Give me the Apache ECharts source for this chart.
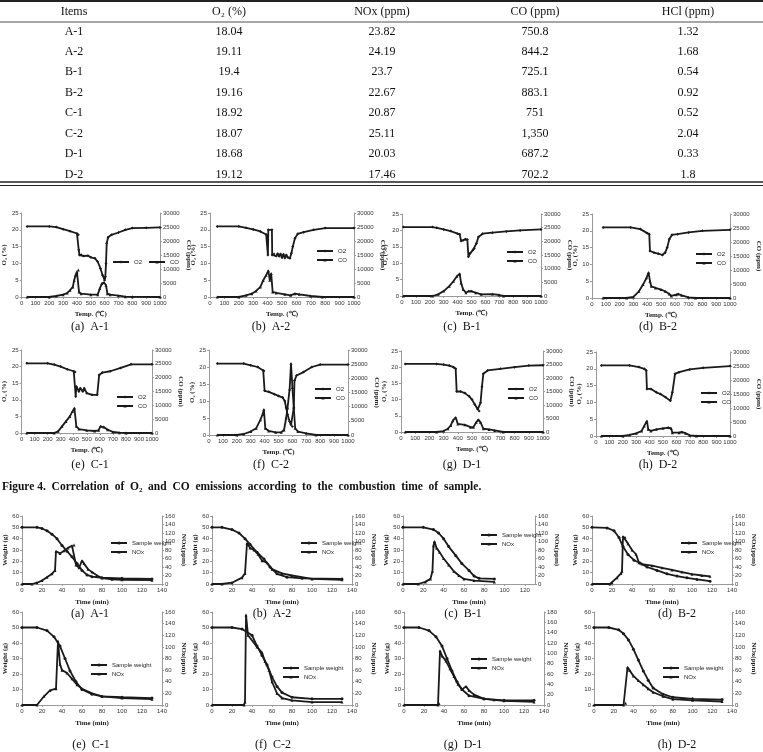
<!DOCTYPE html>
<html lang="en">
<head>
<meta charset="UTF-8">
<title>Figure 4</title>
<style>
  html, body { margin: 0; padding: 0; background: #fff; }
  #chart { width: 763px; height: 752px; }
</style>
</head>
<body>
<div id="chart"></div>
<script src="https://cdn.jsdelivr.net/npm/echarts@6/dist/echarts.min.js"></script>
<script>
// ---- table ----
var tableHead = ['Items', 'O₂ (%)', 'NOx (ppm)', 'CO (ppm)', 'HCl (ppm)'];
var items   = ['A-1', 'A-2', 'B-1', 'B-2', 'C-1', 'C-2', 'D-1', 'D-2'];
var o2Mean  = ['18.04', '19.11', '19.4', '19.16', '18.92', '18.07', '18.68', '19.12'];
var noxMean = ['23.82', '24.19', '23.7', '22.67', '20.87', '25.11', '20.03', '17.46'];
var coMean  = ['750.8', '844.2', '725.1', '883.1', '751', '1,350', '687.2', '702.2'];
var hclMean = ['1.32', '1.68', '0.54', '0.92', '0.52', '2.04', '0.33', '1.8'];

// ---- O2 (%) and CO (ppm) against temperature (C) ----
var o2A1 = [[40,21],[200,21],[250,20.8],[300,20.2],[350,19.6],[400,18.9],[410,18.5],[413,14],[418,12.5],[430,12.6],[450,12.2],[480,12.3],[500,11.8],[530,11.5],[550,10.5],[570,8.5],[585,6.5],[600,5],[605,6],[610,10],[615,16],[625,17.8],[650,18.5],[700,19.2],[750,20],[800,20.5],[900,20.6],[1000,20.7]];
var coA1 = [[40,0],[200,0],[250,360],[300,840],[330,1440],[350,2400],[370,3600],[380,6000],[390,7800],[400,9000],[410,9600],[415,1800],[430,1200],[500,840],[550,840],[565,3000],[580,4800],[595,5200],[610,4200],[620,1200],[640,840],[700,480],[750,120],[800,60],[1000,0]];
var o2A2 = [[50,21],[200,21],[250,20.6],[300,20.1],[350,19.5],[390,18.6],[400,18.2],[402,12.5],[405,20],[430,20],[432,12.5],[445,12.8],[460,12.2],[470,12.9],[480,12.1],[490,12.8],[500,11.7],[510,12.7],[520,11.6],[530,12.5],[540,11.8],[555,11.5],[565,13],[575,15],[590,17.5],[610,18.8],[650,19.3],[720,20],[800,20.5],[1000,20.5]];
var coA2 = [[50,0],[200,0],[250,600],[290,1200],[320,2160],[350,3600],[370,6000],[390,7800],[405,9400],[415,6000],[425,8400],[435,1800],[460,1440],[520,960],[560,600],[590,1200],[620,960],[700,360],[780,0],[1000,0]];
var o2B1 = [[10,21],[220,21],[250,20.8],[300,20.3],[350,19.8],[400,19],[415,18.8],[425,16.8],[440,17],[455,17.3],[470,17.2],[478,12],[490,13],[510,14],[520,14.5],[535,16],[550,18],[580,19],[650,19.3],[750,19.7],[850,20],[1000,20.3]];
var coB1 = [[10,0],[220,0],[260,600],[300,1800],[340,3600],[370,5400],[395,7200],[415,8160],[425,4800],[440,2400],[460,1200],[480,1800],[500,1800],[530,1200],[570,600],[650,720],[700,360],[730,0],[1000,0]];
var o2B2 = [[80,21],[280,21],[350,20.5],[400,19.3],[415,19],[420,14],[450,13.5],[480,13.2],[510,12.8],[530,13.5],[545,15],[560,17.5],[580,18.8],[620,19],[700,19.5],[800,20],[1000,20.3]];
var coB2 = [[80,0],[250,0],[300,360],[340,2400],[370,4800],[395,7200],[410,9100],[420,6000],[430,4200],[460,3600],[500,3000],[530,2400],[560,1440],[575,720],[610,1200],[625,1440],[650,960],[700,240],[750,0],[1000,0]];
var o2C1 = [[40,21],[200,21],[250,20.6],[300,20],[350,19.2],[400,18.6],[410,18.4],[415,11],[420,14],[440,12.5],[450,13.5],[470,12.5],[480,13.5],[500,12],[540,11.5],[580,11.5],[595,17.5],[620,18.2],[680,18.6],[760,19.6],[840,20.7],[1000,20.7]];
var coC1 = [[40,0],[250,0],[280,600],[310,2400],[340,4200],[370,6000],[390,7800],[405,9000],[420,2400],[440,1440],[500,960],[560,720],[590,960],[605,2400],[630,2160],[660,1200],[700,360],[750,120],[800,0],[1000,0]];
var o2C2 = [[60,21],[250,21],[300,20.5],[350,20],[390,19],[395,18.8],[400,13],[430,12.7],[470,12],[500,11.5],[530,11],[545,10],[555,8],[565,6],[580,4],[590,3],[600,2.5],[610,8],[615,16],[630,17.5],[680,18.5],[740,20],[800,20.7],[1000,20.7]];
var coC2 = [[60,0],[200,0],[250,360],[300,1200],[340,2400],[370,5400],[385,7200],[395,9000],[405,2400],[430,1440],[480,960],[520,960],[540,1800],[555,6000],[565,9600],[580,16200],[590,25200],[600,16800],[610,9600],[620,2400],[640,1200],[700,600],[770,0],[1000,0]];
var o2D1 = [[30,21],[250,21],[300,20.8],[340,20.5],[370,20],[385,19.5],[392,12.5],[420,12.5],[450,12],[480,11],[500,10],[520,8.5],[540,7],[550,6.5],[560,9],[570,14],[580,18],[610,19],[700,19.5],[800,20],[900,20.5],[1000,20.6]];
var coD1 = [[30,0],[250,0],[300,360],[330,1200],[350,2400],[365,4200],[385,5400],[400,3000],[450,2640],[490,1800],[510,1800],[530,3600],[545,4560],[560,3600],[580,1200],[620,960],[660,600],[720,0],[1000,0]];
var o2D2 = [[40,21],[250,21],[320,20.5],[360,20],[375,19.5],[380,14],[410,14],[450,13],[480,12.5],[520,11.5],[555,10.5],[570,13],[590,18.5],[620,19],[700,19.8],[800,20.3],[1000,20.8]];
var coD2 = [[40,0],[200,0],[250,360],[300,960],[340,1800],[360,3600],[380,5400],[390,2400],[410,1800],[450,2400],[500,2760],[540,3000],[560,2760],[570,1200],[620,1200],[640,1440],[670,960],[700,240],[750,0],[1000,0]];

// ---- sample weight (g) and NOx (ppm) against time (min) ----
var wtA1  = [[0,50],[15,50],[20,49],[25,47],[30,44],[35,40],[40,34],[45,29],[50,24],[55,18],[60,12],[65,8],[70,6.5],[80,5.5],[100,5],[130,4.5]];
var noxA1 = [[0,0],[10,0],[15,3],[20,8],[25,16],[30,24],[33,32],[34,77],[38,72],[42,78],[46,85],[50,90],[52,92],[54,45],[57,38],[60,55],[62,48],[66,35],[70,28],[75,20],[80,14],[90,11],[100,10],[130,9]];
var wtA2  = [[0,50],[10,50],[20,48],[27,45],[33,40],[38,35],[45,28],[52,22],[58,15],[65,9],[75,6],[90,5],[130,4.5]];
var noxA2 = [[0,0],[10,0],[20,3],[30,15],[33,25],[35,96],[38,85],[42,80],[46,70],[50,55],[55,50],[60,35],[70,25],[80,20],[100,12],[130,10]];
var wtB1  = [[0,50],[20,50],[30,48],[35,45],[40,40],[45,33],[52,25],[58,18],[65,12],[70,7],[75,5],[90,4.5]];
var noxB1 = [[0,0],[15,0],[22,5],[27,12],[29,30],[30,90],[31,100],[33,85],[36,75],[40,60],[45,45],[50,30],[55,20],[60,12],[70,8],[90,5]];
var wtB2  = [[0,50],[15,49.5],[22,47],[27,41],[31,33],[36,26],[42,21],[48,18.5],[55,15],[65,12],[75,9],[85,7],[95,5.5],[105,4],[118,2.5]];
var noxB2 = [[0,0],[18,0],[20,3],[25,15],[29,25],[30,30],[31,112],[33,110],[36,95],[40,80],[44,70],[47,50],[50,47],[60,43],[70,38],[80,33],[90,28],[100,23],[110,20],[118,18]];
var wtC1  = [[0,50],[15,50],[25,48],[32,44],[38,38],[43,30],[48,22],[54,15],[60,10],[70,7],[80,5.5],[100,5],[130,4.5]];
var noxC1 = [[0,0],[15,0],[22,15],[28,25],[34,28],[36,110],[38,70],[40,60],[45,55],[50,45],[55,35],[60,28],[70,20],[80,15],[100,12],[130,10]];
var wtC2  = [[0,50],[20,50],[30,49],[40,45],[45,38],[50,32],[55,26],[60,18],[65,12],[70,8],[80,5],[100,4],[130,4]];
var noxC2 = [[0,0],[32,0],[33,5],[34,155],[36,120],[45,100],[50,90],[53,75],[57,60],[60,40],[65,20],[70,12],[80,8],[100,5],[130,5]];
var wtD1  = [[0,50],[15,50],[25,48],[32,44],[38,38],[43,30],[48,22],[53,15],[58,10],[65,6],[80,4],[100,3],[130,3]];
var noxD1 = [[0,0],[34,0],[35,3],[36,105],[38,95],[42,85],[46,70],[50,55],[54,40],[58,30],[62,36],[65,28],[70,20],[80,12],[90,10],[100,8],[130,6]];
var wtD2  = [[0,50],[15,50],[25,48.5],[30,46],[35,42],[40,36],[45,29],[50,22],[55,16],[60,11],[70,7],[80,5],[100,4],[130,3.5]];
var noxD2 = [[0,0],[30,0],[32,3],[34,65],[36,60],[40,50],[45,42],[50,35],[55,28],[60,22],[70,15],[80,10],[100,8],[130,6]];

var figCaption = 'Figure 4.  Correlation  of  O₂  and  CO  emissions  according  to  the  combustion  time  of  sample.';

// layout of the panels (plot box: left, top, width, height)
var gasPanels = [
  { cap: '(a)  A-1', a: o2A1, b: coA1, box: [17, 213, 143, 84],  lg: [112, 259, 'horizontal'], cx: 90,  cy: 327 },
  { cap: '(b)  A-2', a: o2A2, b: coA2, box: [210, 213, 144, 84], lg: [316, 248, 'vertical'], cx: 271, cy: 327 },
  { cap: '(c)  B-1', a: o2B1, b: coB1, box: [402, 214, 139, 82], lg: [506, 249, 'vertical'], cx: 462, cy: 327 },
  { cap: '(d)  B-2', a: o2B2, b: coB2, box: [592, 214, 141, 84], lg: [695, 251, 'vertical'], cx: 658, cy: 327 },
  { cap: '(e)  C-1', a: o2C1, b: coC1, box: [16, 350, 136, 83],  lg: [116, 394, 'vertical'], cx: 90,  cy: 465 },
  { cap: '(f)  C-2', a: o2C2, b: coC2, box: [209, 350, 139, 85], lg: [314, 386, 'vertical'], cx: 271, cy: 465 },
  { cap: '(g)  D-1', a: o2D1, b: coD1, box: [401, 351, 142, 81], lg: [507, 386, 'vertical'], cx: 462, cy: 465 },
  { cap: '(h)  D-2', a: o2D2, b: coD2, box: [596, 352, 137, 84], lg: [700, 390, 'vertical'], cx: 658, cy: 465 }
];
var wtPanels = [
  { cap: '(a)  A-1', a: wtA1, b: noxA1, box: [22, 516, 140, 68],  xmax: 140, rmax: 160, lg: [110, 540], cx: 90,  cy: 614 },
  { cap: '(b)  A-2', a: wtA2, b: noxA2, box: [212, 516, 140, 68], xmax: 140, rmax: 160, lg: [300, 540], cx: 272, cy: 614 },
  { cap: '(c)  B-1', a: wtB1, b: noxB1, box: [403, 516, 132, 68], xmax: 130, rmax: 160, lg: [480, 532], cx: 463, cy: 614 },
  { cap: '(d)  B-2', a: wtB2, b: noxB2, box: [592, 516, 140, 68], xmax: 140, rmax: 160, lg: [680, 540], cx: 677, cy: 614 },
  { cap: '(e)  C-1', a: wtC1, b: noxC1, box: [22, 612, 140, 93],  xmax: 140, rmax: 160, lg: [90, 662],  cx: 91,  cy: 745 },
  { cap: '(f)  C-2', a: wtC2, b: noxC2, box: [212, 612, 140, 93], xmax: 140, rmax: 160, lg: [282, 665], cx: 273, cy: 745 },
  { cap: '(g)  D-1', a: wtD1, b: noxD1, box: [404, 612, 140, 93], xmax: 140, rmax: 180, lg: [470, 656], cx: 463, cy: 745 },
  { cap: '(h)  D-2', a: wtD2, b: noxD2, box: [594, 612, 138, 93], xmax: 140, rmax: 160, lg: [662, 665], cx: 677, cy: 745 }
];

var ink = '#1a1a1a';
var axisGrey = '#9a9a9a';
var serif = 'Liberation Serif';
var sans = 'Liberation Sans';

var option = {
  backgroundColor: '#fff',
  animation: false,
  grid: [], xAxis: [], yAxis: [], series: [], legend: [], graphic: []
};

function axisBase(g) {
  return {
    gridIndex: g, type: 'value', splitLine: { show: false },
    axisLine: { show: true, lineStyle: { color: axisGrey, width: 1 } },
    axisTick: { show: true, length: 2, lineStyle: { color: axisGrey } },
    axisLabel: { fontSize: 6, color: '#333', fontFamily: sans, margin: 3,
      formatter: function (v) { return String(v); } },
    nameLocation: 'middle',
    nameTextStyle: { fontSize: 7, fontWeight: 'bold', color: '#222', fontFamily: serif }
  };
}

function addPanel(p, g, kind) {
  option.grid.push({ left: p.box[0], top: p.box[1], width: p.box[2], height: p.box[3], containLabel: false });
  var x = axisBase(g), yl = axisBase(g), yr = axisBase(g);
  var names;
  if (kind === 'gas') {
    Object.assign(x, { min: 0, max: 1000, interval: 100, name: 'Temp. (℃)', nameGap: 14 });
    Object.assign(yl, { min: 0, max: 25, interval: 5, name: 'O₂ (%)', nameRotate: 90, nameGap: 12 });
    Object.assign(yr, { position: 'right', min: 0, max: 30000, interval: 5000, name: 'CO (ppm)', nameRotate: -90, nameGap: 25 });
    names = ['O2', 'CO'];
  } else {
    Object.assign(x, { min: 0, max: p.xmax, interval: 20, name: 'Time (min)', nameGap: 15 });
    x.axisLabel = Object.assign({}, x.axisLabel, { showMaxLabel: p.xmax === 140 });
    Object.assign(yl, { min: 0, max: 60, interval: 10, name: 'Weight (g)', nameRotate: 90, nameGap: 12 });
    Object.assign(yr, { position: 'right', min: 0, max: p.rmax, interval: 20, name: 'NOx(ppm)', nameRotate: -90, nameGap: 18 });
    names = ['Sample weight', 'NOx'];
  }
  option.xAxis.push(x);
  option.yAxis.push(yl, yr);
  option.series.push({
    type: 'line', name: names[0], xAxisIndex: g, yAxisIndex: 2 * g, data: p.a,
    symbol: kind === 'gas' ? 'diamond' : 'circle', symbolSize: 3, showAllSymbol: true,
    lineStyle: { color: ink, width: 1.8 }, itemStyle: { color: ink }
  }, {
    type: 'line', name: names[1], xAxisIndex: g, yAxisIndex: 2 * g + 1, data: p.b,
    symbol: 'triangle', symbolSize: 3, showAllSymbol: true,
    lineStyle: { color: ink, width: 1.8 }, itemStyle: { color: ink }
  });
  option.legend.push({
    data: names, left: p.lg[0], top: p.lg[1], orient: p.lg[2] || 'vertical',
    itemWidth: 16, itemHeight: 4, itemGap: p.lg[2] === 'horizontal' ? 6 : 3, padding: 0,
    selectedMode: false,
    textStyle: { fontSize: 6, color: '#222', fontFamily: sans }
  });
  option.graphic.push({
    type: 'text', x: p.cx, y: p.cy,
    style: { text: p.cap, fill: '#111', font: '12px "Liberation Serif"', align: 'center', verticalAlign: 'middle' }
  });
}

gasPanels.forEach(function (p, i) { addPanel(p, i, 'gas'); });
wtPanels.forEach(function (p, i) { addPanel(p, i + gasPanels.length, 'wt'); });

// table drawn as text + rules
var colX = [74, 229, 382, 535, 688];
var rowY = [32, 52, 72, 93, 113, 134, 154, 175];
tableHead.forEach(function (h, c) {
  option.graphic.push({ type: 'text', x: colX[c], y: 12,
    style: { text: h, fill: '#111', font: '12px "Liberation Serif"', align: 'center', verticalAlign: 'middle' } });
});
var cols = [items, o2Mean, noxMean, coMean, hclMean];
cols.forEach(function (col, c) {
  col.forEach(function (v, r) {
    option.graphic.push({ type: 'text', x: colX[c], y: rowY[r],
      style: { text: v, fill: '#111', font: '12px "Liberation Serif"', align: 'center', verticalAlign: 'middle' } });
  });
});
[[1, 2], [22, 0.8], [182, 1.6], [185.5, 1]].forEach(function (l) {
  option.graphic.push({ type: 'line', shape: { x1: 0, y1: l[0], x2: 763, y2: l[0] },
    style: { stroke: '#222', lineWidth: l[1] } });
});
option.graphic.push({ type: 'text', x: 2, y: 487,
  style: { text: figCaption, fill: '#111', font: 'bold 11.5px "Liberation Serif"', verticalAlign: 'middle' } });

var myChart = echarts.init(document.getElementById('chart'));
myChart.setOption(option);
</script>
</body>
</html>
